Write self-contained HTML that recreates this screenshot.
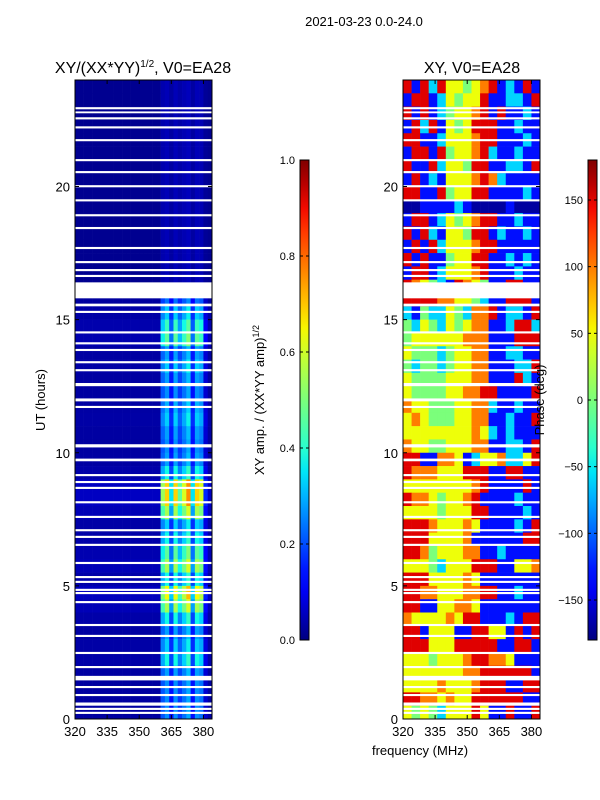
<!DOCTYPE html>
<html><head><meta charset="utf-8">
<style>
body{margin:0;background:#fff;}
svg{display:block;font-family:"Liberation Sans",sans-serif;}
</style></head>
<body>
<svg id="fig" width="600" height="800" viewBox="0 0 600 800">
<text x="364" y="26" font-size="13" text-anchor="middle">2021-03-23 0.0-24.0</text>
<text x="143" y="73" font-size="16" text-anchor="middle">XY/(XX*YY)<tspan font-size="10" dy="-6">1/2</tspan><tspan dy="6">, V0=EA28</tspan></text>
<text x="472" y="73" font-size="16" text-anchor="middle">XY, V0=EA28</text>
<g id="ampPanel"></g>
<g id="phasePanel"></g>
<g id="axes"></g>
<text transform="translate(45,400) rotate(-90)" font-size="13" text-anchor="middle">UT (hours)</text>
<text x="420" y="755" font-size="13" text-anchor="middle">frequency (MHz)</text>
<text transform="translate(264,400) rotate(-90)" font-size="13" text-anchor="middle">XY amp. / (XX*YY amp)<tspan font-size="9" dy="-5">1/2</tspan></text>
<text transform="translate(544,400) rotate(-90)" font-size="13" text-anchor="middle">Phase (deg)</text>
<g id="cbars"></g>
</svg>
<script>
// ---- data ----
const timeRange = [0, 24];
const freqRange = [320, 384];
const xTicks = [320, 335, 350, 365, 380];
const yTicks = [0, 5, 10, 15, 20];
const ampTicks = [0.0, 0.2, 0.4, 0.6, 0.8, 1.0];
const phaseTicks = [-150, -100, -50, 0, 50, 100, 150];
// amplitude: per 2 MHz channel weight, per 0.5 h row level (top row = 23.5-24h)
const ampCol = [0.06,0.06,0.06,0.06,0.06,0.06,0.06,0.06,0.06,0.06,0.06,0.06,0.06,0.06,0.06,0.06,0.06,0.06,0.06,0.06,
  0.7,0.9,0.45,0.9,0.6,0.8,1.0,0.45,0.9,0.8,0.2,0.06];
const ampRow = [0.04,0.04,0.04,0.04,0.04,0.04,0.04,0.04,0.04,0.04,0.04,0.04,0.04,0.04,0.04,0.04,
  0.25,0.35,0.45,0.5,0.3,0.35,0.3,0.28,0.32,0.35,0.3,0.28,0.3,0.4,0.75,0.75,0.6,0.35,0.4,0.5,0.6,0.4,0.7,0.6,0.4,0.3,0.35,0.4,0.3,0.28,0.28,0.28];
// phase: 4 MHz columns, 0.5 h rows, top row first; letter codes -> degrees
const phaseCode = {D:-170, B:-130, C:-60, G:0, Y:50, O:100, R:150};
const phaseRows = [
"RBRCRYYGYORBCBRB","BRRBCYGYYRBBCCBR","RBRBCGYYORBRBBCB","BRCRBYGYRRRBBCBB",
"RRBBCYYYORRBBBCB","BRRBRGYYORCBBCBB","RBBRCYYGRRBBCCBR","BRBCBYYYOROCBBBB",
"RRBBRGYYRRBBBBCB","DDBBBBCBDDDDBDDD","BRRBCYGYORRBBCBB","RBRCBYYGRRBCBBCB",
"BRBRCYYYORRBBBBB","RBRBBGYYRRBBCBCB","BRRBCYYYORBBBCBB","ROYGCBROYGBBRRBB",
"RRRROOYYGCBBRRRB","CBGCCYGCOORBCCBR","GCYGCYGYOOBBCRRC","GYYYYYYOOOBBBRRR",
"YGGGCGYYOOBBCCBB","GCGGCGYYOOBBBCCR","YGGGGYYYOOBBBRCB","YGGGGYYOORRBBBBR",
"OYYGGGYYOOCBBCBB","YOYGGGYYOOBBCBBR","YYYYYYYYOYCBCBBB","OYYGGYYYOOBBCCBR",
"RRBBOOYBCYYOCCYR","ROOOYYYRRRBBRRBB","YYYYYYYYORBBBBRB","ROOYGYYORBBBBCBB",
"YYYYGYYYRRBBBBCB","RRROYYYOYBBBBCBR","RRRYYYYOBBBBBBRR","RROGYYYOOBBCBBBB",
"YYYGCYYYRRRBBYYO","RRRYYYYOYBBBBBBB","RROOYYYOORRBBCBB","RRBBYYOOYBBBBBBB",
"OYYYYOYRRBBBCBRR","RRBYYYBBRRYYBRBR","RRRYYYRRRRRBBRRB","YYYGYYYORROOYBBB",
"YYYYYYYOORRRRRRB","YYYYOYYYORRRBBRR","RROOYOYYRRRRRRBB","YGYGCYYYRYBBRBBR"];
// flagged (white) time intervals, hours [start, end]
const flagStart = [22.9,22.75,22.52,22.18,21.7,20.95,20.5,19.97,19.44,18.88,18.4,17.65,17.12,16.82,16.6,15.8,15.5,15.25,14.48,14.07,13.82,13.36,13.06,12.5,11.93,11.68,10.2,9.68,9.12,8.86,8.64,8.1,7.55,7.05,6.8,6.5,5.82,5.29,5.11,4.81,4.69,4.35,3.49,3.08,2.44,1.91,1.45,1.16,0.86,0.5,0.34,0.19];
const flagEnd   = [22.98,22.82,22.6,22.26,21.78,21.03,20.58,20.05,19.52,18.96,18.48,17.73,17.2,16.9,16.68,16.4,15.6,15.33,14.56,14.15,13.9,13.44,13.14,12.62,12.04,11.76,10.32,9.78,9.2,8.94,8.72,8.18,7.63,7.13,6.88,6.58,5.9,5.37,5.19,4.89,4.77,4.43,3.57,3.16,2.52,1.99,1.62,1.24,0.94,0.62,0.42,0.27];

// ---- helpers ----
const NS = "http://www.w3.org/2000/svg";
function mk(tag, attrs, parent){const e=document.createElementNS(NS,tag);for(const k in attrs)e.setAttribute(k,attrs[k]);parent.appendChild(e);return e;}
function interp(pts,v){for(let i=1;i<pts.length;i++){if(v<=pts[i][0]){const a=pts[i-1],b=pts[i];return a[1]+(b[1]-a[1])*(v-a[0])/(b[0]-a[0]);}}return pts[pts.length-1][1];}
function jet(v){v=Math.max(0,Math.min(1,v));
 const r=interp([[0,0],[0.35,0],[0.66,1],[0.89,1],[1,0.5]],v);
 const g=interp([[0,0],[0.125,0],[0.375,1],[0.64,1],[0.91,0],[1,0]],v);
 const b=interp([[0,0.5],[0.11,1],[0.34,1],[0.65,0],[1,0]],v);
 return `rgb(${Math.round(r*255)},${Math.round(g*255)},${Math.round(b*255)})`;}
const panels = [{x0:75,x1:212,g:'ampPanel',kind:'amp'},{x0:403,x1:540,g:'phasePanel',kind:'phase'}];
const yTop=80, yBot=719;
function yScale(h){return yBot-(h-timeRange[0])/(timeRange[1]-timeRange[0])*(yBot-yTop);}

panels.forEach(p=>{
 const xs=f=>p.x0+(f-freqRange[0])/(freqRange[1]-freqRange[0])*(p.x1-p.x0);
 const g=document.getElementById(p.g);
 if(p.kind==='amp'){
  const nr=ampRow.length, nc=ampCol.length, dt=(timeRange[1]-timeRange[0])/nr, df=(freqRange[1]-freqRange[0])/nc;
  for(let r=0;r<nr;r++)for(let c=0;c<nc;c++){
   const t1=timeRange[1]-r*dt, f0=freqRange[0]+c*df;
   const e=mk('rect',{x:xs(f0),y:yScale(t1),width:xs(f0+df)-xs(f0)+0.3,height:yScale(t1-dt)-yScale(t1)+0.3,fill:jet(0.012+ampCol[c]*ampRow[r])},g);
   
   
  }
 } else {
  const nr=phaseRows.length, nc=phaseRows[0].length, dt=(timeRange[1]-timeRange[0])/nr, df=(freqRange[1]-freqRange[0])/nc;
  for(let r=0;r<nr;r++)for(let c=0;c<nc;c++){
   const t1=timeRange[1]-r*dt, f0=freqRange[0]+c*df;
   const deg=phaseCode[phaseRows[r][c]];
   const e=mk('rect',{x:xs(f0),y:yScale(t1),width:xs(f0+df)-xs(f0)+0.3,height:yScale(t1-dt)-yScale(t1)+0.3,fill:jet((deg+180)/360)},g);
   
   
  }
 }
 for(let i=0;i<flagStart.length;i++){
  const e=mk('rect',{x:p.x0,y:yScale(flagEnd[i]),width:p.x1-p.x0,height:yScale(flagStart[i])-yScale(flagEnd[i]),fill:'#fff'},g);
  
  
 }
 const ax=document.getElementById('axes');
 const fr=mk('rect',{x:p.x0,y:yTop,width:p.x1-p.x0,height:yBot-yTop,fill:'none',stroke:'#000','stroke-width':1},ax);
 
 
 xTicks.forEach(v=>{const x=xs(v);
  mk('line',{x1:x,x2:x,y1:yBot,y2:yBot-4,stroke:'#000'},ax);
  mk('line',{x1:x,x2:x,y1:yTop,y2:yTop+4,stroke:'#000'},ax);
  const t=mk('text',{x:x,y:yBot+17,'font-size':13,'text-anchor':'middle'},ax);t.textContent=v;
  
  
 });
 yTicks.forEach(v=>{const y=yScale(v);
  mk('line',{x1:p.x0,x2:p.x0+4,y1:y,y2:y,stroke:'#000'},ax);
  mk('line',{x1:p.x1,x2:p.x1-4,y1:y,y2:y,stroke:'#000'},ax);
  const t=mk('text',{x:p.x0-5,y:y+5,'font-size':13,'text-anchor':'end'},ax);t.textContent=v;
  
  
 });
});

const cb=document.getElementById('cbars');
const defs=mk('defs',{},cb);
const grad=mk('linearGradient',{id:'jetg',x1:0,y1:1,x2:0,y2:0},defs);
for(let i=0;i<=20;i++){mk('stop',{offset:i/20,'stop-color':jet(i/20)},grad);}
[{x:300,lo:0,hi:1,ticks:ampTicks,fmt:v=>v.toFixed(1),name:'amp-colorbar'},
 {x:588,lo:-180,hi:180,ticks:phaseTicks,fmt:v=>String(v).replace('-','\u2212'),name:'phase-colorbar'}].forEach(c=>{
 const top=160,bot=640,w=9;
 const r=mk('rect',{x:c.x,y:top,width:w,height:bot-top,fill:'url(#jetg)',stroke:'#000','stroke-width':1},cb);
 
 
 c.ticks.forEach(v=>{const y=bot-(v-c.lo)/(c.hi-c.lo)*(bot-top);
  mk('line',{x1:c.x,x2:c.x+3,y1:y,y2:y,stroke:'#000'},cb);
  mk('line',{x1:c.x+w,x2:c.x+w-3,y1:y,y2:y,stroke:'#000'},cb);
  const t=mk('text',{x:c.x-5,y:y+4,'font-size':11,'text-anchor':'end'},cb);t.textContent=c.fmt(v);
  
  
 });
});
</script>
</body></html>
